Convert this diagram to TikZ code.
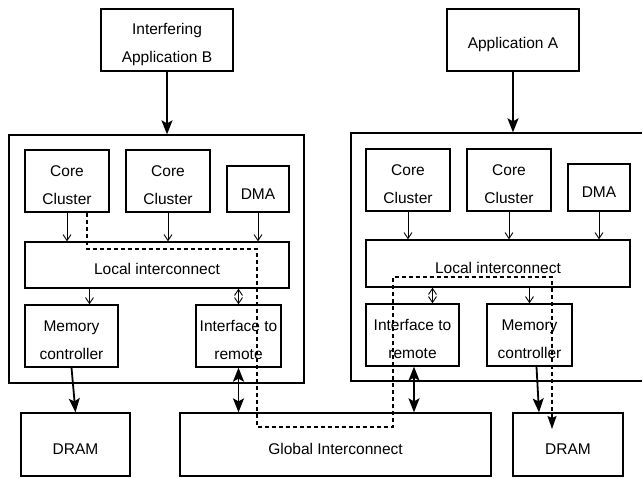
\documentclass[tikz,border=0pt]{standalone}
\usepackage{fontspec}
\setmainfont{Liberation Sans}
\usepackage{tikz}
\usetikzlibrary{calc,arrows.meta,positioning}
\newcommand{\tallstrut}{\rule{0pt}{20pt}}

\begin{document}
\begin{tikzpicture}[x=1pt,y=-1pt]

\tikzset{blockbox/.style={draw,line width=1.3pt,inner sep=0pt,align=center,font=\fontsize{15.5pt}{28pt}\selectfont},
smallarrow/.style={line width=0.9pt,-{Straight Barb[length=6pt,width=8pt]}},
smallboth/.style={line width=0.9pt,{Straight Barb[length=6pt,width=8pt]}-{Straight Barb[length=6pt,width=8pt]}},
bigarrow/.style={line width=1.8pt,-{Stealth[length=14pt,width=11pt,inset=3pt]}},
bigboth/.style={line width=1.8pt,{Stealth[length=14pt,width=11pt,inset=3pt]}-{Stealth[length=14pt,width=11pt,inset=3pt]}},
pathdash/.style={line width=1.1pt,dash pattern=on 4pt off 3pt,-{Stealth[length=13pt,width=9pt,inset=2pt]}}}

\path[use as bounding box,clip] (0,0) rectangle (642,477);

% Applications
\node[blockbox,minimum width=132pt,minimum height=62pt] (appB) at (167,40) {\tallstrut Interfering\\Application B};
\node[blockbox,minimum width=132pt,minimum height=62pt] (appA) at (513,40) {\tallstrut Application A};

% Systems
\node[draw,line width=1.3pt,minimum width=295pt,minimum height=248pt] (sysB) at (156.5,259) {};
\node[draw,line width=1.3pt,minimum width=349pt,minimum height=248pt] (sysA) at (525.5,257) {};

% Left system nodes
\node[blockbox,minimum width=84pt,minimum height=62pt] (ccB1) at (67,181) {\tallstrut Core\\Cluster};
\node[blockbox,minimum width=84pt,minimum height=62pt] (ccB2) at (168,181) {\tallstrut Core\\Cluster};
\node[blockbox,minimum width=62pt,minimum height=46pt] (dmaB) at (258,189) {\tallstrut DMA};
\node[blockbox,minimum width=264pt,minimum height=46pt] (locB) at (157,265) {\tallstrut Local interconnect};
\node[blockbox,minimum width=93pt,minimum height=62pt] (memB) at (71.5,336) {\tallstrut Memory\\controller};
\node[blockbox,minimum width=85pt,minimum height=62pt] (ifB) at (238.5,336) {\tallstrut Interface to\\remote};

% Right system nodes
\node[blockbox,minimum width=84pt,minimum height=62pt] (ccA1) at (408,180) {\tallstrut Core\\Cluster};
\node[blockbox,minimum width=84pt,minimum height=62pt] (ccA2) at (509,180) {\tallstrut Core\\Cluster};
\node[blockbox,minimum width=62pt,minimum height=47pt] (dmaA) at (599,187.5) {\tallstrut DMA};
\node[blockbox,minimum width=264pt,minimum height=47pt] (locA) at (498,263.5) {\tallstrut Local interconnect};
\node[blockbox,minimum width=93pt,minimum height=62pt] (ifA) at (412.5,335) {\tallstrut Interface to\\remote};
\node[blockbox,minimum width=85pt,minimum height=62pt] (memA) at (529.5,335) {\tallstrut Memory\\controller};

% Bottom row
\node[blockbox,minimum width=109pt,minimum height=63pt] (dramB) at (75.5,444.5) {\tallstrut DRAM};
\node[blockbox,minimum width=311pt,minimum height=63pt] (glob) at (335.5,444.5) {\tallstrut Global Interconnect};
\node[blockbox,minimum width=110pt,minimum height=63pt] (dramA) at (568,444.5) {\tallstrut DRAM};

% Edges
\draw[bigarrow] (appB) -- (appB |- sysB.north); \draw[bigarrow] (appA) -- (appA |- sysA.north);
\foreach \n in {ccB1,ccB2,dmaB} \draw[smallarrow] (\n) -- (\n |- locB.north);
\foreach \n in {ccA1,ccA2,dmaA} \draw[smallarrow] (\n) -- (\n |- locA.north);
\draw[smallarrow] ([xshift=18pt]memB.north |- locB.south) -- ([xshift=18pt]memB.north);
\draw[smallarrow] (memA.north |- locA.south) -- (memA.north);
\draw[smallboth] (ifB.north |- locB.south) -- (ifB.north);
\draw[smallboth] ([xshift=20pt]ifA.north |- locA.south) -- ([xshift=20pt]ifA.north);
\draw[bigarrow] (memB.south) -- (dramB.north);
\draw[bigarrow] ([xshift=7pt]memA.south) -- ([xshift=-29pt]dramA.north);
\draw[bigboth] (ifB.south) -- (ifB.south |- glob.north);
\draw[bigboth] ([xshift=1.5pt]ifA.south) -- ([xshift=1.5pt]ifA.south |- glob.north);

% Interference path
\coordinate (pathEnd) at (552,429);
\draw[pathdash] ([xshift=20pt]ccB1.south) |- (257,249) |- (393,427) |- (552,277) -- (pathEnd);

\end{tikzpicture}
\end{document}
